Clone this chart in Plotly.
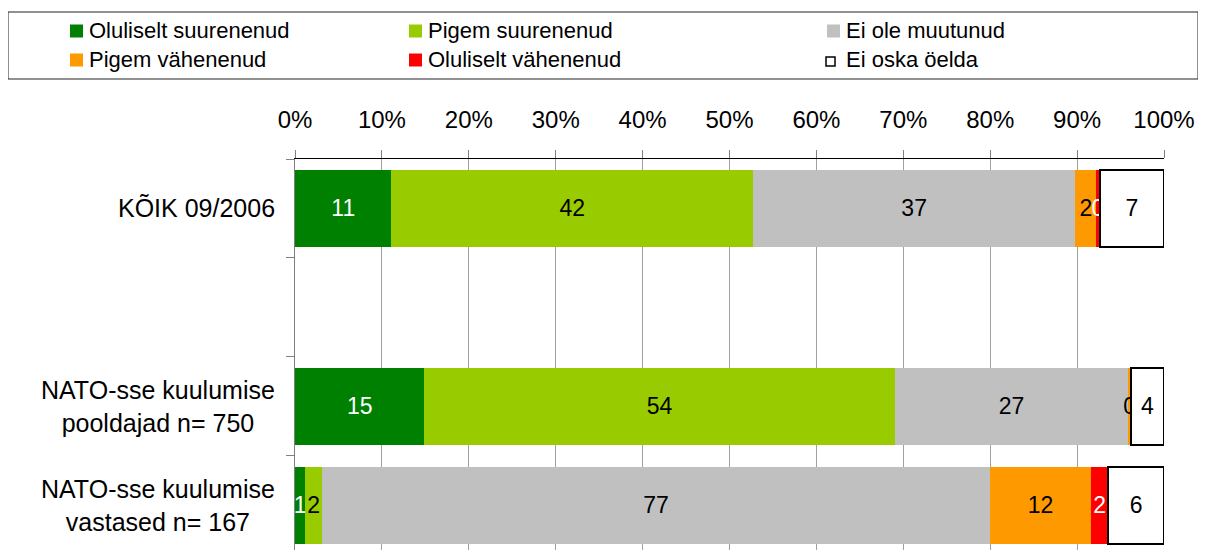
import plotly.graph_objects as go

categories = ["KÕIK 09/2006", " ", "NATO-sse kuulumise<br>pooldajad n= 750",
              "NATO-sse kuulumise<br>vastased n= 167"]
series_names = ["Oluliselt suurenenud", "Pigem suurenenud", "Ei ole muutunud",
                "Pigem vähenenud", "Oluliselt vähenenud", "Ei oska öelda"]
oluliselt_suurenenud = [11.1, None, 14.9, 1.2]
pigem_suurenenud = [41.6, None, 54.1, 1.9]
ei_ole_muutunud = [37.1, None, 26.9, 76.9]
pigem_vahenenud = [2.4, None, 0.3, 11.6]
oluliselt_vahenenud = [0.4, None, 0.0, 2.0]
ei_oska_oelda = [7.4, None, 3.8, 6.4]
tick_values = [0, 10, 20, 30, 40, 50, 60, 70, 80, 90, 100]

series_values = [oluliselt_suurenenud, pigem_suurenenud, ei_ole_muutunud,
                 pigem_vahenenud, oluliselt_vahenenud, ei_oska_oelda]
colors = ["#008000", "#99CC00", "#C0C0C0", "#FF9900", "#FF0000", "#FFFFFF"]
text_colors = ["white", "black", "black", "black", "white", "black"]

FONT = "Liberation Sans, Arial, sans-serif"
OFF = 8  # page body margin
W, H = 1206 - OFF, 550 - OFF
ML, MR, MT, MB = 295 - OFF, 42, 159 - OFF, 0
PW, PH = W - ML - MR, H - MT - MB


def px(x):
    # x given in screen pixels
    return (x - OFF - ML) / PW


def py(y):
    return (H - MB - (y - OFF)) / PH


fig = go.Figure()
for name, vals, col, tcol in zip(series_names, series_values, colors, text_colors):
    last = col == "#FFFFFF"
    fig.add_trace(go.Bar(
        y=categories, x=vals, orientation="h", name=name,
        marker=dict(color=col, line=dict(color="black", width=2 if last else 0)),
        text=["" if v is None else f"{round(v)}" for v in vals],
        textposition="inside", insidetextanchor="middle", textangle=0,
        textfont=dict(color=tcol, size=23, family=FONT),
        showlegend=False, hoverinfo="skip",
    ))

# category labels (centred multi-line)
annotations = []
for c in categories:
    if c.strip():
        annotations.append(dict(
            x=0, xref="paper", y=c, yref="y", xanchor="right", xshift=-18,
            text=c, showarrow=False, align="center",
            font=dict(size=25, family=FONT, color="black")))

# legend drawn manually
shapes = [dict(type="rect", xref="paper", yref="paper",
               x0=px(8), x1=px(1198), y0=py(79), y1=py(12),
               line=dict(color="#222222", width=1), fillcolor="white")]
col_x = [70, 409, 827]
row_y = [31, 60]
for i, (name, col) in enumerate(zip(series_names, colors)):
    cx = col_x[i % 3]
    cy = row_y[i // 3]
    if col == "#FFFFFF":
        shapes.append(dict(type="rect", xref="paper", yref="paper",
                           x0=px(cx - 1), x1=px(cx + 8), y0=py(cy + 6), y1=py(cy - 3),
                           line=dict(color="black", width=1.5), fillcolor="white"))
    else:
        shapes.append(dict(type="rect", xref="paper", yref="paper",
                           x0=px(cx), x1=px(cx + 13), y0=py(cy + 6.5), y1=py(cy - 6.5),
                           line=dict(width=0), fillcolor=col))
    annotations.append(dict(
        x=px(cx + 17), xref="paper", y=py(cy), yref="paper",
        xanchor="left", yanchor="middle", text=name, showarrow=False,
        font=dict(size=22, family=FONT, color="black")))

fig.update_layout(
    barmode="stack", bargap=0.22,
    width=W, height=H,
    margin=dict(l=ML, r=MR, t=MT, b=MB, pad=0),
    plot_bgcolor="white", paper_bgcolor="white",
    font=dict(family=FONT, size=24, color="black"),
    uniformtext=dict(minsize=23, mode="show"),
    shapes=shapes, annotations=annotations,
    xaxis=dict(side="top", range=[0, 100], tickvals=tick_values,
               ticktext=[f"{v}%" for v in tick_values],
               showgrid=True, gridcolor="#A0A0A0", gridwidth=1,
               showline=True, linecolor="black", linewidth=1,
               ticks="outside", ticklen=8, tickcolor="#808080",
               ticklabelstandoff=12, zeroline=False,
               tickfont=dict(size=24, family=FONT)),
    yaxis=dict(categoryorder="array", categoryarray=categories,
               range=[3.45, -0.5], tickson="boundaries",
               ticks="outside", ticklen=8, tickcolor="#808080",
               showticklabels=False, showgrid=False, zeroline=False,
               showline=True, linecolor="#808080", linewidth=1),
)

fig.write_html("out.html")
